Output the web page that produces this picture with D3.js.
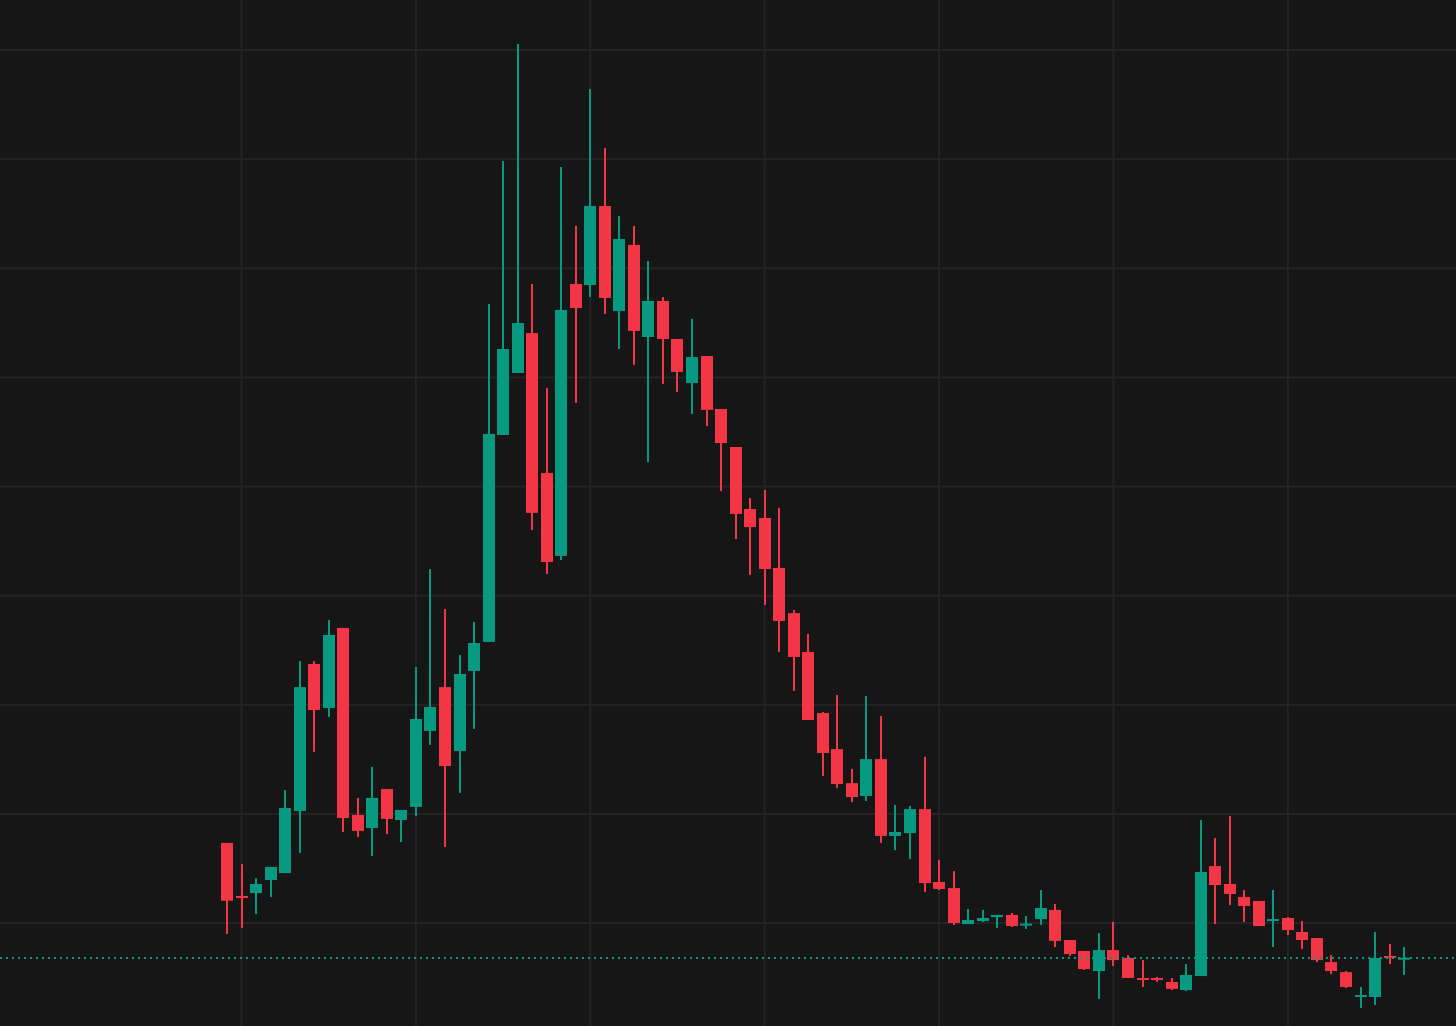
<!DOCTYPE html>
<html>
<head>
<meta charset="utf-8">
<script src="https://cdn.jsdelivr.net/npm/d3@7"></script>
<style>
  html, body { margin: 0; padding: 0; background: #161616; overflow: hidden; }
</style>
</head>
<body>
<div id="root"></div>
<script>
// monthly candles, Dec 2017 .. Sep 2024
const months = d3.timeMonth.range(new Date(2017, 11, 1), new Date(2024, 9, 1));

const open = [13.67, 11.24, 11.37, 11.97, 12.29, 15.13, 21.87, 19.85, 23.52, 14.95,
  14.35, 16.14, 14.72, 15.32, 18.80, 20.81, 17.88, 21.55, 22.88, 32.36,
  35.20, 37.03, 30.62, 26.82, 39.28, 39.23, 42.85, 38.04, 41.07, 36.85,
  38.50, 36.76, 34.74, 35.98, 33.55, 31.81, 28.97, 28.56, 26.27, 24.20,
  22.42, 19.62, 17.97, 16.41, 15.82, 17.51, 13.99, 14.12, 15.22, 11.88,
  11.60, 9.95, 10.09, 10.27, 10.37, 9.88, 10.18, 10.60, 9.22, 8.72,
  7.80, 8.76, 8.40, 7.48, 7.48, 7.30, 6.93, 7.57, 12.61, 11.79,
  11.19, 11.01, 10.09, 10.23, 9.59, 9.31, 8.21, 7.75, 6.61, 6.61,
  8.49, 8.33];

const high = [13.67, 12.70, 12.06, 12.57, 16.09, 22.00, 22.00, 23.88, 23.52, 15.73,
  17.15, 16.14, 15.18, 21.73, 26.22, 24.39, 22.28, 23.79, 38.36, 44.91,
  50.28, 39.28, 34.51, 44.64, 41.94, 48.21, 45.51, 42.39, 41.94, 40.33,
  38.68, 36.76, 37.68, 35.98, 33.55, 31.81, 29.47, 29.84, 29.02, 24.34,
  23.24, 19.67, 20.45, 17.06, 20.40, 19.48, 15.41, 15.36, 17.61, 12.89,
  12.38, 10.64, 10.60, 10.37, 10.46, 10.32, 11.51, 10.87, 9.22, 8.72,
  9.54, 10.05, 8.53, 8.30, 7.53, 7.48, 8.12, 14.72, 13.89, 14.90,
  11.51, 11.01, 11.51, 10.27, 10.09, 9.31, 8.53, 7.80, 7.07, 9.59,
  9.04, 8.90];

const low = [9.50, 9.77, 10.41, 11.19, 12.29, 13.21, 17.84, 19.44, 14.17, 13.94,
  13.07, 14.08, 13.71, 14.90, 18.16, 13.48, 15.96, 18.89, 22.88, 32.36,
  35.20, 28.01, 25.99, 26.63, 33.83, 38.68, 37.90, 36.30, 35.57, 31.12,
  34.70, 34.33, 33.32, 32.77, 29.79, 27.59, 25.95, 24.57, 22.42, 20.63,
  19.30, 16.74, 16.19, 15.54, 15.59, 13.67, 13.34, 12.93, 11.42, 11.51,
  9.91, 9.95, 10.05, 9.77, 9.82, 9.73, 9.91, 8.90, 8.49, 7.85,
  6.52, 8.03, 7.48, 7.07, 7.30, 6.93, 6.88, 7.57, 9.95, 10.82,
  10.05, 9.86, 8.90, 9.45, 8.81, 8.21, 7.66, 7.02, 6.11, 6.24,
  8.12, 7.62];

const close = [11.02, 11.15, 11.79, 12.57, 15.27, 20.81, 19.76, 23.20, 14.81, 14.22,
  15.73, 14.77, 15.18, 19.35, 19.90, 17.19, 21.41, 22.83, 32.41, 36.30,
  37.49, 28.79, 26.54, 38.09, 38.18, 42.85, 38.64, 41.34, 37.13, 38.50,
  36.76, 35.25, 35.93, 33.51, 31.99, 28.74, 28.14, 26.22, 23.84, 22.19,
  19.30, 17.79, 16.37, 15.77, 17.51, 13.99, 14.17, 15.22, 11.83, 11.56,
  10.00, 10.14, 10.23, 10.37, 9.86, 9.97, 10.69, 9.18, 8.58, 7.89,
  8.76, 8.30, 7.48, 7.39, 7.39, 6.98, 7.62, 12.34, 11.74, 11.33,
  10.78, 9.86, 10.18, 9.68, 9.22, 8.30, 7.80, 7.07, 6.70, 8.40,
  8.40, 8.40];

const priceTicks = [10, 15, 20, 25, 30, 35, 40, 45, 50];

const width = 1456;
const height = 1026;
const up = "#089981";
const down = "#f23645";

const candles = months.map((d, i) => ({
  date: d, i: i, open: open[i], high: high[i], low: low[i], close: close[i]
}));

const svg = d3
  .select("#root")
  .append("svg")
  .attr("width", width)
  .attr("height", height)
  .style("display", "block");

svg.append("rect")
  .attr("width", width)
  .attr("height", height)
  .attr("fill", "#161616");

// index based x, price based y
const xScale = d3.scaleLinear().domain([-15.62, 84.57]).range([0, width]);
const yScale = d3.scaleLinear().domain([5.281, 52.291]).range([height, 0]);
const bodyW = 12;
const wickW = 2;

const grid = svg.append("g").attr("class", "grid");

grid.selectAll(".hgrid")
  .data(priceTicks)
  .enter()
  .append("line")
  .attr("class", "hgrid")
  .attr("x1", 0)
  .attr("x2", width)
  .attr("y1", (d) => yScale(d))
  .attr("y2", (d) => yScale(d))
  .attr("stroke", "#242424")
  .attr("stroke-width", 2);

// vertical lines on every January
const yearStarts = candles.filter((c) => c.date.getMonth() === 0);
grid.selectAll(".vgrid")
  .data(yearStarts)
  .enter()
  .append("line")
  .attr("class", "vgrid")
  .attr("x1", (c) => xScale(c.i))
  .attr("x2", (c) => xScale(c.i))
  .attr("y1", 0)
  .attr("y2", height)
  .attr("stroke", "#242424")
  .attr("stroke-width", 2);

const colorOf = (c) => (c.close >= c.open ? up : down);

const body = svg.append("g").attr("class", "chartBody");

// wicks
body.selectAll(".stem")
  .data(candles)
  .enter()
  .append("rect")
  .attr("class", "stem")
  .attr("x", (c) => Math.round(xScale(c.i)) - wickW / 2)
  .attr("y", (c) => yScale(c.high))
  .attr("width", wickW)
  .attr("height", (c) => yScale(c.low) - yScale(c.high))
  .attr("fill", colorOf);

// bodies (min 2px so dojis still show)
body.selectAll(".candle")
  .data(candles)
  .enter()
  .append("rect")
  .attr("class", "candle")
  .attr("x", (c) => Math.round(xScale(c.i)) - bodyW / 2)
  .attr("y", (c) => {
    const top = yScale(Math.max(c.open, c.close));
    const h = yScale(Math.min(c.open, c.close)) - top;
    return h < 2 ? top - (2 - h) / 2 : top;
  })
  .attr("width", bodyW)
  .attr("height", (c) =>
    Math.max(2, yScale(Math.min(c.open, c.close)) - yScale(Math.max(c.open, c.close)))
  )
  .attr("fill", colorOf);

// last price line
const last = candles[candles.length - 1];
svg.append("line")
  .attr("x1", 0)
  .attr("x2", width)
  .attr("y1", Math.round(yScale(last.close)))
  .attr("y2", Math.round(yScale(last.close)))
  .attr("stroke", colorOf(last))
  .attr("stroke-width", 2)
  .attr("stroke-dasharray", "2,4");
</script>
</body>
</html>
